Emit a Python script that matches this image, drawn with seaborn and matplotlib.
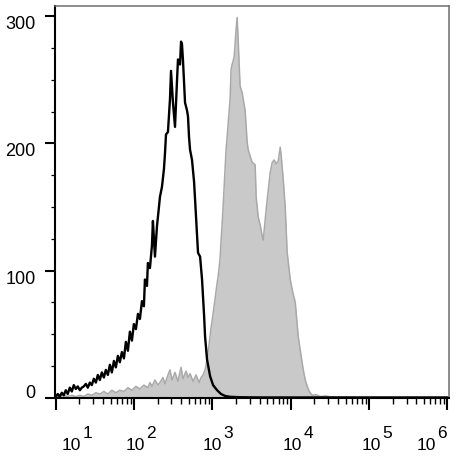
import numpy as np
import pandas as pd
import matplotlib
matplotlib.use("Agg")
import matplotlib.pyplot as plt
import seaborn as sns
from matplotlib.ticker import FixedLocator, LogLocator, NullFormatter

# control (unstained) histogram, black line: log10 intensity and event count
control_log = [
    1.000, 1.026, 1.051, 1.077, 1.102, 1.128, 1.153, 1.179, 1.205, 1.230,
    1.256, 1.281, 1.307, 1.332, 1.358, 1.384, 1.409, 1.435, 1.460, 1.486,
    1.512, 1.537, 1.563, 1.588, 1.614, 1.639, 1.665, 1.691, 1.716, 1.742,
    1.767, 1.793, 1.818, 1.844, 1.870, 1.895, 1.921, 1.946, 1.972, 1.997,
    2.023, 2.049, 2.074, 2.100, 2.125, 2.138, 2.164, 2.176, 2.202, 2.228,
    2.240, 2.266, 2.292, 2.317, 2.330, 2.356, 2.381, 2.394, 2.407, 2.432,
    2.458, 2.471, 2.496, 2.522, 2.548, 2.560, 2.586, 2.599, 2.611, 2.624,
    2.650, 2.675, 2.688, 2.701, 2.714, 2.739, 2.765, 2.778, 2.803, 2.816,
    2.842, 2.867, 2.893, 2.906, 2.931, 2.970, 3.008, 3.059, 3.110, 3.161,
    3.225, 3.353, 3.609, 4.120, 6.000,
]
control_count = [
    1, 3, 1, 4, 2, 6, 3, 8, 5, 10,
    7, 9, 6, 8, 9, 11, 8, 12, 10, 15,
    12, 18, 14, 20, 16, 22, 18, 26, 20, 29,
    24, 33, 28, 36, 31, 44, 37, 52, 45, 58,
    54, 66, 62, 76, 72, 93, 88, 106, 102, 120,
    139, 111, 135, 150, 158, 166, 180, 192, 207, 209,
    235, 257, 232, 213, 250, 266, 262, 280, 278, 265,
    232, 226, 221, 205, 195, 187, 170, 156, 128, 114,
    111, 93, 65, 48, 30, 17, 10, 6, 3, 1.5,
    0.8, 0.5, 0.3, 0.3, 0.3,
]

# stained sample histogram, grey filled
stained_log = [
    1.000, 1.051, 1.102, 1.153, 1.205, 1.256, 1.307, 1.358, 1.409, 1.460,
    1.512, 1.563, 1.614, 1.665, 1.716, 1.767, 1.818, 1.870, 1.921, 1.972,
    2.023, 2.074, 2.125, 2.176, 2.202, 2.228, 2.266, 2.305, 2.330, 2.368,
    2.394, 2.432, 2.458, 2.484, 2.522, 2.560, 2.599, 2.624, 2.663, 2.688,
    2.714, 2.752, 2.791, 2.829, 2.855, 2.880, 2.906, 2.931, 2.957, 2.982,
    3.008, 3.034, 3.059, 3.072, 3.098, 3.110, 3.123, 3.136, 3.161, 3.174,
    3.187, 3.200, 3.225, 3.238, 3.251, 3.277, 3.302, 3.315, 3.328, 3.341,
    3.353, 3.379, 3.405, 3.417, 3.443, 3.456, 3.481, 3.507, 3.532, 3.545,
    3.558, 3.584, 3.609, 3.635, 3.648, 3.673, 3.699, 3.737, 3.763, 3.788,
    3.814, 3.839, 3.865, 3.878, 3.903, 3.929, 3.954, 3.980, 3.993, 4.018,
    4.057, 4.095, 4.134, 4.159, 4.185, 4.210, 4.236, 4.274, 4.325, 4.377,
    4.441, 4.505, 4.633, 4.760, 6.000,
]
stained_count = [
    1, 1, 2, 1, 2, 1, 2, 1, 3, 2,
    4, 3, 5, 3, 6, 4, 6, 5, 8, 6,
    9, 7, 10, 8, 12, 9, 14, 10, 12, 16,
    11, 18, 22, 14, 20, 13, 24, 15, 21, 16,
    19, 13, 18, 12, 16, 18, 22, 30, 42, 55,
    66, 78, 90, 95, 110, 124, 136, 150, 180, 195,
    205, 215, 235, 258, 262, 268, 290, 299, 282, 262,
    245, 240, 230, 226, 201, 195, 190, 185, 184, 183,
    158, 142, 136, 127, 124, 140, 156, 177, 185, 187,
    184, 186, 197, 190, 172, 150, 114, 100, 93, 85,
    75, 48, 32, 22, 14, 9, 5, 2, 2.5, 1,
    1.5, 0.8, 0.6, 0.3, 0.2,
]

decades = [1, 2, 3, 4, 5, 6]
y_ticks = [0, 100, 200, 300]

control = pd.DataFrame({"x": 10 ** np.array(control_log), "count": control_count})
stained = pd.DataFrame({"x": 10 ** np.array(stained_log), "count": stained_count})

sns.set_style("ticks")
plt.rcParams["font.family"] = ["Liberation Sans", "DejaVu Sans"]
plt.rcParams["text.color"] = "black"
plt.rcParams["xtick.color"] = "black"
plt.rcParams["ytick.color"] = "black"
plt.rcParams["xtick.labelcolor"] = "black"
plt.rcParams["ytick.labelcolor"] = "black"

fig = plt.figure(figsize=(4.62, 4.61), dpi=100)
ax = fig.add_axes([0.119, 0.137, 0.853, 0.850])

# stained sample: filled grey histogram
ax.fill_between(stained["x"], 0, stained["count"], color="#c9c9c9", linewidth=0, zorder=1)
sns.lineplot(data=stained, x="x", y="count", sort=False, estimator=None,
             color="#a9a9a9", linewidth=1.1, ax=ax, zorder=2)

# control: black outline
sns.lineplot(data=control, x="x", y="count", sort=False, estimator=None,
             color="black", linewidth=1.7, ax=ax, zorder=3, clip_on=False)

ax.set_xscale("log")
ax.set_xlim(10 ** 0.99, 10 ** 6.02)
ax.set_ylim(0, 308)
ax.set_xlabel("")
ax.set_ylabel("")

# y ticks
ax.yaxis.set_major_locator(FixedLocator(y_ticks))
ax.yaxis.set_minor_locator(FixedLocator([25, 50, 75, 125, 150, 175, 225, 250, 275]))
ax.set_yticklabels([str(v) for v in y_ticks])
ax.tick_params(axis="y", which="major", length=7, width=1.5, labelsize=13, pad=7,
               color="black", labelcolor="black")
ax.tick_params(axis="y", which="minor", length=3, width=0.9, color="black")
for lab in ax.get_yticklabels():
    lab.set_verticalalignment("top")
ax.get_yticklabels()[0].set_verticalalignment("baseline")

# x ticks: log decades, labels drawn as "10" + full size exponent
ax.xaxis.set_major_locator(FixedLocator([10.0 ** d for d in decades]))
ax.xaxis.set_minor_locator(LogLocator(base=10, subs=np.arange(2, 10)))
ax.xaxis.set_major_formatter(NullFormatter())
ax.xaxis.set_minor_formatter(NullFormatter())
ax.tick_params(axis="x", which="major", length=8.5, width=1.5, color="black")
ax.tick_params(axis="x", which="minor", length=4.3, width=1.0, color="black")

shift = {1: 16, 2: 1, 3: 0, 4: 2, 5: 2, 6: -21}
trans = ax.get_xaxis_transform()
for d in decades:
    ax.annotate("10", xy=(10.0 ** d, 0), xycoords=trans,
                xytext=(shift[d], -48), textcoords="offset pixels",
                ha="center", va="center", fontsize=12.5, color="black",
                annotation_clip=False)
    ax.annotate(str(d), xy=(10.0 ** d, 0), xycoords=trans,
                xytext=(shift[d] + 11, -36), textcoords="offset pixels",
                ha="left", va="center", fontsize=12.5, color="black",
                annotation_clip=False)

for side in ["left", "bottom"]:
    ax.spines[side].set_color("black")
    ax.spines[side].set_linewidth(1.5)
for side in ["top", "right"]:
    ax.spines[side].set_color("#6e6e6e")
    ax.spines[side].set_linewidth(1.1)
    ax.spines[side].set_visible(True)

fig.savefig("out.png", dpi=100)
